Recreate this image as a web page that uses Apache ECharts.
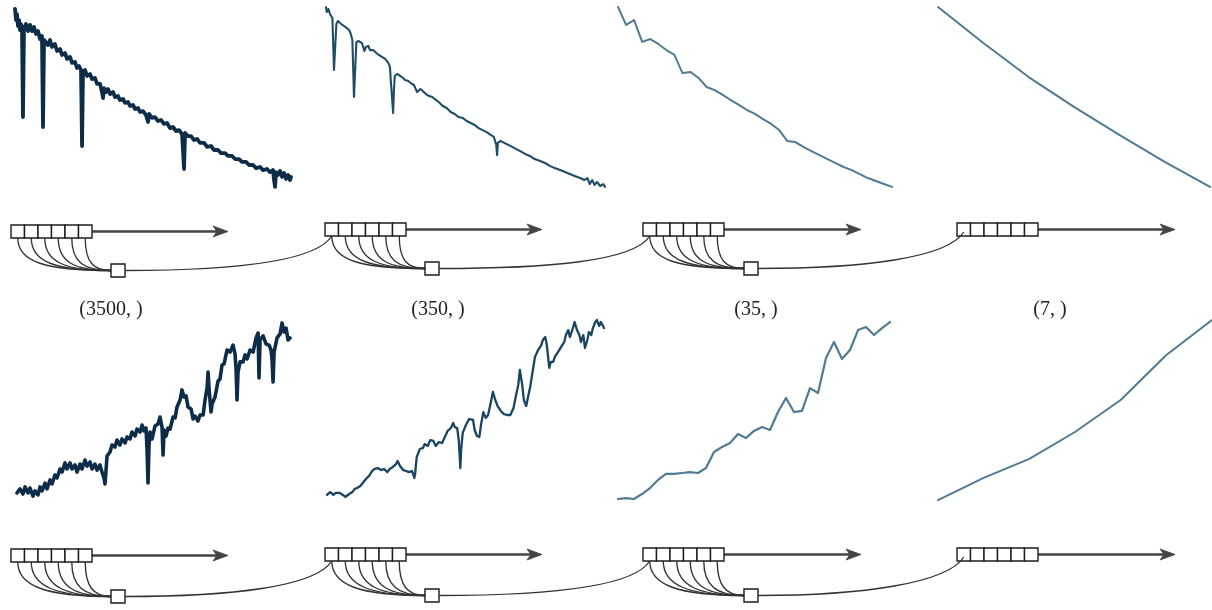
<!DOCTYPE html>
<html>
<head>
<meta charset="utf-8">
<script src="https://cdn.jsdelivr.net/npm/echarts@6/dist/echarts.min.js"></script>
<style>
  html, body { margin: 0; padding: 0; background: #ffffff; }
  #chart { width: 1212px; height: 610px; }
</style>
</head>
<body>
<div id="chart"></div>
<script>
// One spectrum per row, shown at four lengths (3500 -> 350 -> 35 -> 7 samples).
const seriesLengths = [3500, 350, 35, 7];
const shapeLabels = ['(3500, )', '(350, )', '(35, )', '(7, )'];

// Hot spectrum (top row): [sample index, normalised flux]
const hotFull = [
  [0,0.989],[13,0.928],[25,0.961],[38,0.895],[51,0.928],[63,0.873],[76,0.906],[89,0.873],[101,0.392],[114,0.884],
  [139,0.906],[165,0.867],[190,0.901],[216,0.867],[241,0.890],[266,0.851],[292,0.867],[317,0.823],[342,0.840],[355,0.337],
  [368,0.818],[393,0.829],[418,0.790],[444,0.818],[469,0.779],[507,0.796],[533,0.757],[571,0.768],[596,0.735],[634,0.746],
  [659,0.713],[697,0.724],[723,0.691],[761,0.696],[786,0.663],[812,0.674],[837,0.652],[850,0.232],[862,0.641],[888,0.652],
  [913,0.619],[951,0.630],[976,0.602],[1014,0.608],[1040,0.575],[1078,0.575],[1103,0.530],[1116,0.497],[1129,0.552],[1154,0.530],
  [1179,0.547],[1205,0.519],[1243,0.530],[1268,0.503],[1306,0.508],[1331,0.486],[1369,0.492],[1395,0.470],[1433,0.475],[1458,0.453],
  [1496,0.459],[1522,0.436],[1560,0.442],[1585,0.420],[1623,0.425],[1661,0.403],[1686,0.365],[1699,0.409],[1737,0.387],[1775,0.392],
  [1813,0.370],[1851,0.376],[1889,0.354],[1927,0.359],[1965,0.331],[2003,0.337],[2041,0.315],[2080,0.320],[2118,0.298],[2130,0.309],
  [2143,0.105],[2156,0.304],[2194,0.287],[2232,0.287],[2270,0.265],[2308,0.271],[2346,0.249],[2397,0.249],[2435,0.227],[2485,0.232],
  [2523,0.210],[2574,0.210],[2612,0.193],[2663,0.193],[2701,0.177],[2752,0.177],[2790,0.160],[2840,0.160],[2878,0.144],[2929,0.144],
  [2967,0.127],[3018,0.127],[3056,0.110],[3107,0.116],[3145,0.099],[3195,0.105],[3233,0.088],[3271,0.099],[3284,0.044],[3297,0.006],
  [3309,0.088],[3335,0.072],[3360,0.094],[3386,0.061],[3411,0.083],[3436,0.050],[3462,0.072],[3487,0.044],[3499,0.061]
];
const hotTenth = [
  [0,1.000],[1,0.972],[3,0.989],[5,0.961],[8,0.939],[10,0.652],[13,0.906],[15,0.923],[19,0.906],[21,0.912],
  [24,0.890],[26,0.901],[29,0.873],[31,0.851],[33,0.818],[35,0.503],[38,0.807],[41,0.812],[45,0.801],[48,0.757],
  [50,0.779],[53,0.785],[55,0.762],[59,0.762],[63,0.746],[66,0.735],[70,0.724],[74,0.713],[78,0.691],[80,0.669],
  [81,0.597],[84,0.414],[85,0.541],[86,0.619],[89,0.630],[91,0.641],[95,0.613],[99,0.597],[103,0.591],[106,0.580],
  [110,0.569],[114,0.530],[118,0.547],[121,0.536],[125,0.519],[129,0.508],[133,0.503],[136,0.492],[141,0.475],[146,0.453],
  [151,0.442],[156,0.420],[161,0.409],[166,0.392],[171,0.387],[176,0.370],[181,0.359],[186,0.348],[191,0.331],[196,0.320],
  [201,0.309],[206,0.293],[210,0.282],[213,0.238],[214,0.182],[215,0.249],[218,0.260],[223,0.249],[228,0.238],[233,0.227],
  [238,0.215],[243,0.204],[249,0.188],[255,0.177],[261,0.160],[268,0.149],[274,0.138],[280,0.122],[286,0.110],[293,0.099],
  [299,0.088],[305,0.077],[311,0.066],[318,0.055],[323,0.044],[327,0.055],[330,0.022],[333,0.044],[336,0.017],[339,0.033],
  [343,0.011],[347,0.022],[349,0.006]
];
const hotCoarse = [
  1.000,0.901,0.928,0.807,0.823,0.796,0.762,0.735,0.635,0.641,
  0.608,0.558,0.541,0.514,0.486,0.459,0.431,0.409,0.381,0.354,
  0.320,0.260,0.254,0.227,0.204,0.182,0.160,0.138,0.116,0.099,
  0.077,0.055,0.039,0.022,0.006
];
const hotCoarsest = [1.000, 0.801, 0.613, 0.448, 0.293, 0.144, 0.006];

// Cool spectrum (bottom row): [sample index, normalised flux]
const coolFull = [
  [0,0.044],[38,0.066],[77,0.038],[103,0.077],[141,0.044],[167,0.071],[205,0.027],[231,0.055],[269,0.033],[295,0.077],
  [321,0.055],[359,0.098],[385,0.066],[423,0.115],[449,0.093],[487,0.142],[513,0.126],[551,0.175],[577,0.158],[615,0.208],
  [641,0.175],[679,0.208],[705,0.175],[744,0.197],[769,0.158],[808,0.202],[833,0.175],[872,0.224],[897,0.191],[936,0.213],
  [962,0.175],[1000,0.202],[1026,0.169],[1064,0.197],[1090,0.158],[1115,0.126],[1128,0.093],[1141,0.169],[1154,0.246],[1192,0.268],
  [1218,0.306],[1256,0.295],[1282,0.333],[1320,0.306],[1346,0.339],[1385,0.317],[1410,0.350],[1449,0.339],[1474,0.377],[1513,0.355],
  [1538,0.393],[1577,0.377],[1603,0.415],[1628,0.383],[1654,0.399],[1667,0.279],[1679,0.098],[1692,0.306],[1705,0.377],[1731,0.339],
  [1769,0.410],[1808,0.421],[1833,0.459],[1859,0.404],[1872,0.251],[1885,0.388],[1910,0.355],[1936,0.399],[1962,0.393],[2000,0.459],
  [2026,0.454],[2051,0.514],[2090,0.552],[2115,0.607],[2141,0.568],[2167,0.574],[2192,0.514],[2231,0.503],[2256,0.448],[2282,0.464],
  [2320,0.437],[2346,0.470],[2385,0.470],[2410,0.552],[2436,0.617],[2449,0.705],[2461,0.617],[2487,0.486],[2500,0.530],[2538,0.568],
  [2577,0.656],[2602,0.667],[2628,0.743],[2654,0.749],[2692,0.825],[2731,0.814],[2769,0.852],[2795,0.803],[2808,0.716],[2820,0.552],
  [2833,0.705],[2859,0.760],[2897,0.760],[2923,0.798],[2949,0.776],[2987,0.825],[3026,0.814],[3064,0.891],[3090,0.918],[3102,0.672],
  [3115,0.880],[3154,0.902],[3192,0.858],[3231,0.852],[3256,0.825],[3269,0.770],[3282,0.650],[3295,0.814],[3333,0.891],[3372,0.913],
  [3397,0.973],[3423,0.923],[3449,0.945],[3474,0.880],[3499,0.891]
];
const coolTenth = [
  [0,0.033],[4,0.049],[8,0.033],[11,0.044],[16,0.044],[20,0.033],[23,0.022],[25,0.016],[28,0.038],[32,0.049],
  [35,0.066],[38,0.071],[42,0.082],[45,0.098],[49,0.120],[53,0.137],[57,0.164],[60,0.175],[64,0.180],[68,0.169],
  [72,0.175],[76,0.158],[79,0.175],[83,0.186],[87,0.202],[89,0.219],[92,0.191],[96,0.169],[100,0.164],[103,0.158],
  [107,0.164],[110,0.126],[111,0.148],[113,0.240],[117,0.284],[121,0.290],[123,0.311],[127,0.301],[130,0.333],[134,0.328],
  [137,0.301],[141,0.322],[145,0.317],[149,0.355],[152,0.383],[156,0.399],[159,0.426],[161,0.404],[164,0.399],[166,0.333],
  [168,0.180],[169,0.279],[171,0.372],[175,0.415],[179,0.448],[181,0.454],[184,0.443],[186,0.388],[189,0.355],[192,0.350],
  [194,0.415],[197,0.486],[200,0.454],[203,0.470],[207,0.552],[209,0.596],[212,0.552],[215,0.519],[219,0.492],[223,0.475],
  [227,0.470],[231,0.470],[235,0.508],[238,0.574],[241,0.634],[243,0.716],[246,0.634],[248,0.552],[251,0.519],[253,0.563],
  [256,0.623],[260,0.732],[262,0.787],[266,0.825],[270,0.852],[272,0.880],[275,0.896],[277,0.852],[280,0.727],[282,0.760],
  [285,0.760],[287,0.787],[291,0.814],[295,0.842],[299,0.869],[301,0.907],[304,0.934],[306,0.896],[309,0.934],[312,0.978],
  [315,0.934],[318,0.907],[320,0.869],[323,0.907],[325,0.836],[328,0.880],[330,0.923],[333,0.907],[335,0.945],[338,0.978],
  [340,0.989],[343,0.956],[345,0.978],[348,0.956],[349,0.945]
];
const coolCoarse = [
  0.011,0.016,0.011,0.038,0.071,0.115,0.148,0.148,0.153,0.158,
  0.153,0.180,0.268,0.295,0.317,0.366,0.344,0.383,0.404,0.388,
  0.486,0.563,0.486,0.492,0.617,0.590,0.781,0.869,0.776,0.825,
  0.934,0.951,0.907,0.945,0.978
];
const coolCoarsest = [0.005, 0.126, 0.230, 0.377, 0.552, 0.798, 0.989];

// ---- layout ----
const rows = [
  { top: 7,   height: 181, spans: [[15, 276], [326, 279], [618, 274], [938, 272]],
    data: [hotFull, hotTenth, hotCoarse, hotCoarsest],
    styles: [{ c: '#0d2c48', w: 3.8 }, { c: '#1f4d66', w: 2.1 }, { c: '#507b93', w: 2 }, { c: '#507b93', w: 2 }] },
  { top: 318, height: 183, spans: [[17, 273], [327, 277], [618, 272], [938, 274]],
    data: [coolFull, coolTenth, coolCoarse, coolCoarsest],
    styles: [{ c: '#0d2c48', w: 3.6 }, { c: '#1a4560', w: 2.3 }, { c: '#507b93', w: 2.2 }, { c: '#507b93', w: 2 }] }
];

// Downsampling diagram under each panel: six cells, an arrow, and the pooled cell.
const diagrams = [
  [ { boxX: 11,  boxY: 225, tip: 228,  small: [111, 264] },
    { boxX: 325, boxY: 223, tip: 542,  small: [425, 262] },
    { boxX: 643, boxY: 223, tip: 861,  small: [744, 262] },
    { boxX: 957, boxY: 223, tip: 1175, small: null } ],
  [ { boxX: 11,  boxY: 549, tip: 228,  small: [111, 590] },
    { boxX: 325, boxY: 548, tip: 542,  small: [425, 589] },
    { boxX: 643, boxY: 548, tip: 861,  small: [744, 589] },
    { boxX: 957, boxY: 548, tip: 1175, small: null } ]
];
const labelCenters = [111, 438, 756, 1050];
const labelY = 310;

const CELL_W = 13.5, CELL_H = 13, SMALL_W = 14, SMALL_H = 13;

const grid = [], xAxis = [], yAxis = [], series = [];
rows.forEach((row, r) => {
  row.spans.forEach((span, p) => {
    const gi = grid.length;
    grid.push({ left: span[0], top: row.top, width: span[1], height: row.height,
                containLabel: false, outerBoundsMode: 'none', show: false });
    xAxis.push({ type: 'value', gridIndex: gi, min: 0, max: seriesLengths[p] - 1, show: false });
    yAxis.push({ type: 'value', gridIndex: gi, min: 0, max: 1, show: false });
    const raw = row.data[p];
    const pts = typeof raw[0] === 'number' ? raw.map((v, i) => [i, v]) : raw;
    series.push({
      type: 'line', xAxisIndex: gi, yAxisIndex: gi, data: pts,
      showSymbol: false, symbol: 'none', clip: false, silent: true,
      lineStyle: { color: row.styles[p].c, width: row.styles[p].w, join: 'round', cap: 'round' }
    });
  });
});

const elements = [];
const strokeDark = '#1c1c1c', curveCol = '#333333', arrowCol = '#444444';
diagrams.forEach((rowD) => {
  rowD.forEach((d, p) => {
    const rowRight = d.boxX + CELL_W * 6;
    const midY = d.boxY + CELL_H / 2;
    // arrow shaft and stealth head
    elements.push({ type: 'line', z: 1, shape: { x1: rowRight, y1: midY, x2: d.tip - 10, y2: midY },
                    style: { stroke: arrowCol, lineWidth: 2.3 } });
    elements.push({ type: 'polygon', z: 2, shape: { points: [[d.tip, midY], [d.tip - 15, midY - 5.5], [d.tip - 11, midY], [d.tip - 15, midY + 5.5]] },
                    style: { fill: arrowCol, stroke: arrowCol, lineWidth: 0.8 } });
    // cells
    for (let i = 0; i < 6; i++) {
      elements.push({ type: 'rect', z: 3, shape: { x: d.boxX + i * CELL_W, y: d.boxY, width: CELL_W, height: CELL_H },
                      style: { fill: '#ffffff', stroke: strokeDark, lineWidth: 1.4 } });
    }
    if (d.small) {
      const sx = d.small[0], sy = d.small[1] + SMALL_H / 2;
      const by = d.boxY + CELL_H;
      for (let i = 0; i < 6; i++) {
        const cx = d.boxX + (i + 0.5) * CELL_W;
        elements.push({ type: 'bezierCurve', z: 4,
          shape: { x1: cx, y1: by, cpx1: cx, cpy1: by + 24, cpx2: cx + (sx - cx) * 0.3, cpy2: sy, x2: sx, y2: sy },
          style: { stroke: curveCol, lineWidth: 1.35, fill: null } });
      }
      elements.push({ type: 'rect', z: 5, shape: { x: d.small[0], y: d.small[1], width: SMALL_W, height: SMALL_H },
                      style: { fill: '#ffffff', stroke: strokeDark, lineWidth: 1.4 } });
      // connector to the first cell of the next stage
      const nxt = rowD[p + 1];
      const ex = nxt.boxX + CELL_W * 0.5;
      const ey = nxt.small ? nxt.boxY + CELL_H : nxt.boxY + CELL_H - 4;
      const x0 = d.small[0] + SMALL_W;
      elements.push({ type: 'bezierCurve', z: 6,
        shape: { x1: x0, y1: sy, cpx1: x0 + 105, cpy1: sy, cpx2: ex - 16, cpy2: ey + 26, x2: ex, y2: ey },
        style: { stroke: curveCol, lineWidth: 1.35, fill: null } });
    }
  });
});

shapeLabels.forEach((t, i) => {
  elements.push({ type: 'text', z: 10, x: labelCenters[i], y: labelY,
    style: { text: t, fill: '#222222', fontSize: 20, fontFamily: '"Liberation Serif", serif',
             align: 'center', verticalAlign: 'middle', textAlign: 'center', textVerticalAlign: 'middle' } });
});

const chart = echarts.init(document.getElementById('chart'), null, { renderer: 'canvas' });
chart.setOption({
  animation: false,
  backgroundColor: '#ffffff',
  grid, xAxis, yAxis, series,
  graphic: { elements }
});
</script>
</body>
</html>
